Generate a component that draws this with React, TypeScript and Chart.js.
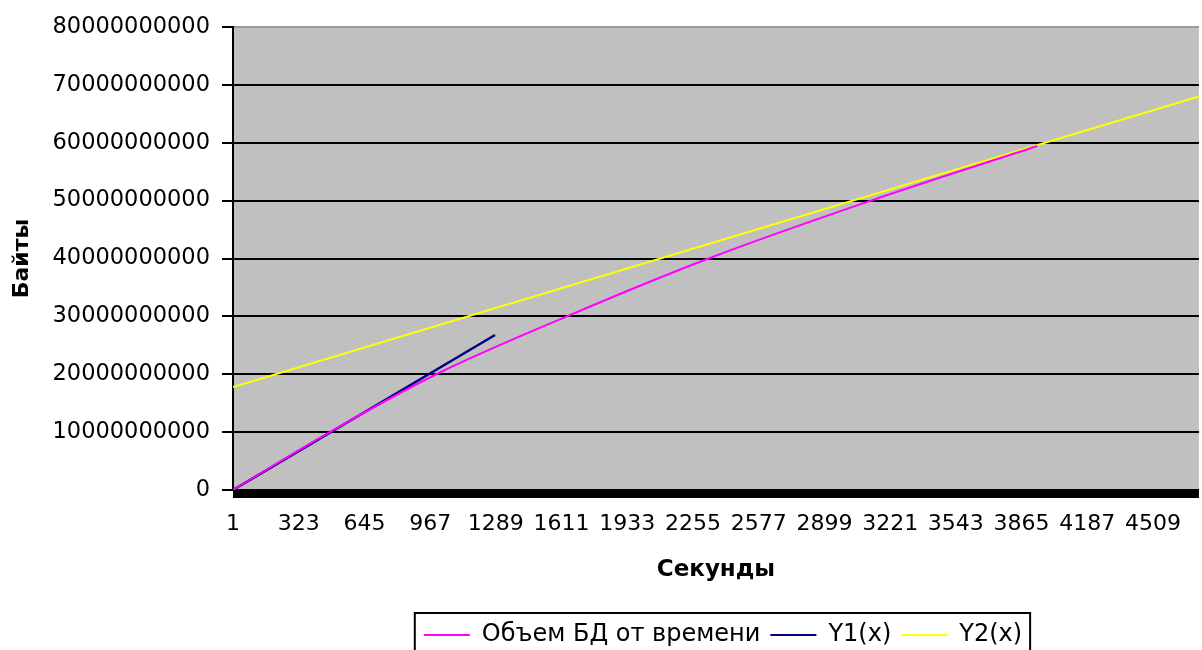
import React, { useEffect, useRef } from "react";
import { Chart, registerables } from "chart.js";

Chart.register(...registerables);

// X axis (seconds) tick labels and range
const xTickValues = [1, 323, 645, 967, 1289, 1611, 1933, 2255, 2577, 2899, 3221, 3543, 3865, 4187, 4509];
const xMin = 1;
const xMax = 4734;

// Y axis (bytes)
const yMin = 0;
const yMax = 80000000000;
const yStep = 10000000000;

// Series: "Объем БД от времени"
const dbSeconds = [1, 475, 997, 1637, 2331, 3127, 3942];
const dbBytes = [0, 10000000000, 20000000000, 30000000000, 40000000000, 50000000000, 59440000000];

// Series: Y1(x)
const y1Seconds = [1, 1285];
const y1Bytes = [0, 26780000000];

// Series: Y2(x)
const y2Seconds = [1, 4734];
const y2Bytes = [17800000000, 68000000000];

const seriesNames = ["Объем БД от времени", "Y1(x)", "Y2(x)"];
const seriesColors = ["#ff00ff", "#000080", "#ffff00"];

const FONT = "'DejaVu Sans', sans-serif";
const LEGEND_DX = 7;
const LEGEND_DY = 2;

const toPoints = (xs: number[], ys: number[]) => xs.map((x, i) => ({ x, y: ys[i] }));

const decorPlugin = {
  id: "decor",
  afterLayout(chart: any) {
    const lg = chart.legend;
    if (lg) {
      lg.left += LEGEND_DX;
      lg.right += LEGEND_DX;
      lg.top += LEGEND_DY;
      lg.bottom += LEGEND_DY;
    }
  },
  beforeDraw(chart: any) {
    const { ctx, chartArea: a } = chart;
    ctx.save();
    ctx.fillStyle = "#c0c0c0";
    ctx.fillRect(a.left, a.top, a.right - a.left, a.bottom - a.top);
    ctx.restore();
  },
  afterDraw(chart: any) {
    const { ctx, chartArea: a } = chart;
    ctx.save();
    ctx.fillStyle = "#000";
    ctx.fillRect(a.left, a.bottom, a.right - a.left, 8);
    const boxes = chart.legend && chart.legend.legendHitBoxes;
    if (boxes && boxes.length) {
      const first = boxes[0];
      const last = boxes[boxes.length - 1];
      const left = first.left - 9;
      const right = last.left + last.width + 8;
      const top = first.top - 10;
      ctx.strokeStyle = "#000";
      ctx.lineWidth = 2;
      ctx.strokeRect(left, top, right - left, 60);
    }
    ctx.restore();
  },
};

export default function App() {
  const canvasRef = useRef<HTMLCanvasElement | null>(null);

  useEffect(() => {
    if (!canvasRef.current) return;
    const chart = new Chart(canvasRef.current, {
      type: "line",
      data: {
        datasets: [
          {
            label: seriesNames[0],
            data: toPoints(dbSeconds, dbBytes),
            borderColor: seriesColors[0],
            backgroundColor: seriesColors[0],
            borderWidth: 2,
            pointRadius: 0,
            cubicInterpolationMode: "monotone",
          },
          {
            label: seriesNames[1],
            data: toPoints(y1Seconds, y1Bytes),
            borderColor: seriesColors[1],
            backgroundColor: seriesColors[1],
            borderWidth: 2.5,
            pointRadius: 0,
          },
          {
            label: seriesNames[2],
            data: toPoints(y2Seconds, y2Bytes),
            borderColor: seriesColors[2],
            backgroundColor: seriesColors[2],
            borderWidth: 2,
            pointRadius: 0,
          },
        ],
      },
      options: {
        animation: false,
        responsive: true,
        maintainAspectRatio: false,
        layout: { padding: { top: 27, left: 0, right: 0, bottom: -5 } },
        plugins: {
          tooltip: { enabled: false },
          legend: {
            position: "bottom",
            fullSize: false,
            labels: {
              font: { family: FONT, size: 24 },
              color: "#000",
              boxWidth: 46,
              boxHeight: 2,
              padding: 10,
              generateLabels: (c: any) =>
                Chart.defaults.plugins.legend.labels
                  .generateLabels(c)
                  .map((l: any) => ({ ...l, lineWidth: 0 })),
            },
          },
        },
        scales: {
          x: {
            type: "linear",
            min: xMin,
            max: xMax,
            afterBuildTicks: (s: any) => {
              s.ticks = xTickValues.map((v) => ({ value: v }));
            },
            afterFit: (s: any) => {
              s.height = 121;
            },
            grid: { display: false, drawTicks: false },
            border: { display: false },
            ticks: {
              autoSkip: false,
              maxRotation: 0,
              padding: 21,
              color: "#000",
              font: { family: FONT, size: 22 },
              callback: (v: any) => String(v),
            },
            title: {
              display: true,
              text: "Секунды",
              color: "#000",
              font: { family: FONT, size: 23, weight: "bold" },
              padding: { top: 0, bottom: 27 },
            },
          },
          y: {
            min: yMin,
            max: yMax,
            afterFit: (s: any) => {
              s.width = 233;
            },
            ticks: {
              stepSize: yStep,
              padding: 12,
              color: "#000",
              font: { family: FONT, size: 22.5 },
              callback: (v: any) => Number(v).toFixed(0),
            },
            grid: {
              color: (c: any) => (c.tick && c.tick.value === yMax ? "#9a9a9a" : "#000"),
              tickColor: "#000",
              tickLength: 11,
              lineWidth: 2,
            },
            border: { display: true, color: "#000", width: 2 },
            title: {
              display: true,
              text: "Байты",
              color: "#000",
              font: { family: FONT, size: 22, weight: "bold" },
              padding: { top: 9, bottom: 0 },
            },
          },
        },
      },
      plugins: [decorPlugin],
    });
    return () => chart.destroy();
  }, []);

  return (
    <div style={{ position: "absolute", left: 0, top: 0, width: 1202, height: 650 }}>
      <canvas ref={canvasRef} />
    </div>
  );
}
